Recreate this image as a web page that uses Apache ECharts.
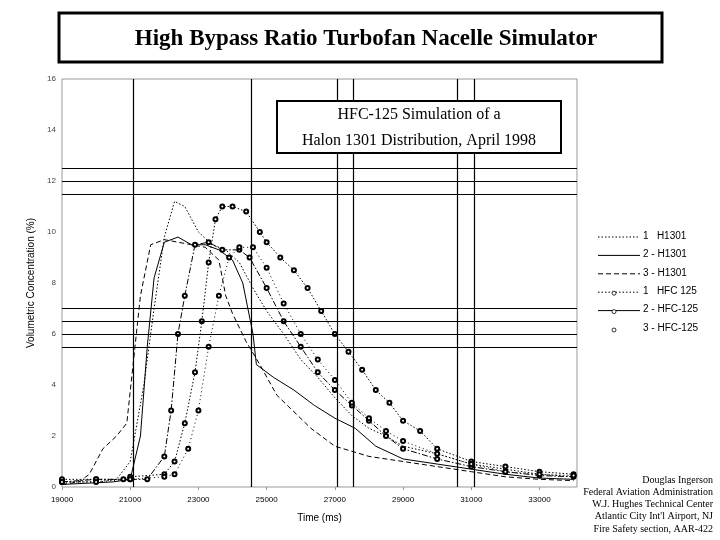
<!DOCTYPE html>
<html>
<head>
<meta charset="utf-8">
<script src="https://cdn.jsdelivr.net/npm/echarts@6/dist/echarts.min.js"></script>
<style>html,body{margin:0;padding:0;background:#fff}#chart{width:720px;height:540px}</style>
</head>
<body>
<div id="chart"></div>
<script>
// data (time in ms, concentration in %)
const h1301_1 = [[19000,0.2],[20000,0.2],[20600,0.3],[21000,1],[21400,4],[21700,7],[22000,9.8],[22300,11.2],[22600,11.0],[23000,10.0],[23400,9.5],[23800,9.3],[24200,8.8],[24600,7.8],[25000,6.9],[25500,6.0],[26000,5.0],[26500,4.3],[27000,3.5],[27500,2.8],[28000,2.3],[28500,2.0],[29000,1.6],[30000,1.3],[31000,0.9],[32000,0.7],[33000,0.5],[34000,0.4]];
const h1301_2 = [[19000,0.1],[20500,0.2],[21000,0.3],[21300,2],[21500,5.5],[21700,8.2],[22000,9.6],[22400,9.8],[22800,9.5],[23200,9.5],[23600,9.3],[24000,8.9],[24300,8.0],[24600,6.0],[24700,4.8],[25200,4.3],[25800,3.8],[26400,3.2],[27000,2.7],[27600,2.3],[28200,1.6],[29000,1.1],[30000,0.9],[31000,0.7],[32000,0.5],[33000,0.35],[34000,0.3]];
const h1301_3 = [[19000,0.1],[19500,0.2],[19800,0.5],[20200,1.5],[20600,2.0],[20900,2.5],[21100,5],[21300,7.5],[21600,9.5],[22000,9.7],[22400,9.6],[22800,9.5],[23200,9.4],[23600,8.9],[23800,7.5],[24000,6.8],[24400,5.7],[24800,4.8],[25300,3.6],[26300,2.3],[27000,1.6],[28000,1.2],[29000,1.0],[30000,0.8],[31000,0.6],[32000,0.4],[33000,0.3],[34000,0.25]];
const hfc_1 = [[19000,0.3],[20000,0.3],[20800,0.3],[21000,0.4],[22000,0.5],[22300,1.0],[22600,2.5],[22900,4.5],[23100,6.5],[23300,8.8],[23500,10.5],[23700,11.0],[24000,11.0],[24400,10.8],[24800,10.0],[25000,9.6],[25400,9.0],[25800,8.5],[26200,7.8],[26600,6.9],[27000,6.0],[27400,5.3],[27800,4.6],[28200,3.8],[28600,3.3],[29000,2.6],[29500,2.2],[30000,1.5],[31000,1.0],[32000,0.8],[33000,0.6],[34000,0.5]];
const hfc_2 = [[19000,0.2],[20000,0.3],[21000,0.3],[21500,0.3],[22000,1.2],[22200,3],[22400,6],[22600,7.5],[22900,9.5],[23300,9.6],[23700,9.3],[24200,9.3],[24500,9.0],[25000,7.8],[25500,6.5],[26000,5.5],[26500,4.5],[27000,3.8],[27500,3.2],[28000,2.6],[28500,2.0],[29000,1.5],[30000,1.1],[31000,0.8],[32000,0.6],[33000,0.45],[34000,0.4]];
const hfc_3 = [[19000,0.2],[20000,0.2],[21000,0.3],[22000,0.4],[22300,0.5],[22700,1.5],[23000,3],[23300,5.5],[23600,7.5],[23900,9.0],[24200,9.4],[24600,9.4],[25000,8.6],[25500,7.2],[26000,6.0],[26500,5.0],[27000,4.2],[27500,3.3],[28000,2.7],[28500,2.2],[29000,1.8],[30000,1.3],[31000,0.9],[32000,0.6],[33000,0.5],[34000,0.45]];
const xTicks = [19000, 21000, 23000, 25000, 27000, 29000, 31000, 33000];
const vLines = [21090, 24540, 27060, 27530, 30580, 31080];
const hLines = [12.5, 12.0, 11.5, 7.0, 6.5, 6.0, 5.5];
const legendNames = ['1   H1301', '2 - H1301', '3 - H1301', '1   HFC 125', '2 - HFC-125', '3 - HFC-125'];

const chart = echarts.init(document.getElementById('chart'));
const serif = 'Liberation Serif';

function line(name, data, type, marker) {
    return {
        name: name, type: 'line', data: data, smooth: false,
        symbol: marker ? 'emptyCircle' : 'none', symbolSize: 4,
        showSymbol: !!marker,
        lineStyle: { color: '#000', width: 1, type: type },
        itemStyle: { color: '#000', borderWidth: 0.8 },
        animation: false, z: 3
    };
}

// legend drawn by hand to mimic the original sample lines
const legendStyles = [
    { dash: [1.5, 2] }, { dash: null }, { dash: [5, 3] },
    { dash: [1.5, 2], mk: true }, { dash: null, mk: true }, { none: true, mk: true }
];
const legendGraphics = [];
legendStyles.forEach((s, i) => {
    const y = 237 + i * 18.4;
    if (!s.none) legendGraphics.push({ type: 'line', shape: { x1: 598, y1: y, x2: 640, y2: y },
        style: { stroke: '#000', lineWidth: 1, lineDash: s.dash } });
    if (s.mk) legendGraphics.push({ type: 'circle', shape: { cx: 614, cy: y + 1, r: 2 },
        style: { stroke: '#000', fill: '#fff', lineWidth: 0.8 } });
    legendGraphics.push({ type: 'text', x: 643, y: y - 6,
        style: { text: legendNames[i], font: '10px Liberation Sans', fill: '#000' } });
});

const option = {
    backgroundColor: '#fff',
    animation: false,
    grid: { left: 62, right: 143, top: 79, bottom: 53, show: true, borderColor: '#999', borderWidth: 1 },
    xAxis: {
        type: 'value', min: 19000, max: 34100,
        name: 'Time (ms)', nameLocation: 'middle', nameGap: 26,
        nameTextStyle: { fontFamily: 'Liberation Sans', fontSize: 10, color: '#000' },
        axisLine: { show: false }, splitLine: { show: false },
        axisTick: { show: true, customValues: xTicks, length: 3, lineStyle: { color: '#999' } },
        axisLabel: { customValues: xTicks, formatter: v => String(v), fontSize: 8, color: '#000', fontFamily: 'Liberation Sans', margin: 9 }
    },
    yAxis: {
        type: 'value', min: 0, max: 16, interval: 2,
        name: 'Volumetric Concentration (%)', nameLocation: 'middle', nameGap: 26,
        nameTextStyle: { fontFamily: 'Liberation Sans', fontSize: 10, color: '#000' },
        axisLine: { show: false }, splitLine: { show: false }, axisTick: { show: false },
        axisLabel: { fontSize: 8, color: '#444', fontFamily: 'Liberation Sans', margin: 6 }
    },
    series: [
        line(legendNames[0], h1301_1, [1.5, 2], false),
        line(legendNames[1], h1301_2, 'solid', false),
        line(legendNames[2], h1301_3, [5, 3], false),
        line(legendNames[3], hfc_1, [1.5, 2], true),
        line(legendNames[4], hfc_2, [6, 2, 1.5, 2], true),
        line(legendNames[5], hfc_3, [1, 3], true),
        {
            type: 'line', data: [], silent: true,
            markLine: {
                symbol: 'none', silent: true, label: { show: false }, animation: false,
                lineStyle: { color: '#000', width: 1.2, type: 'solid' },
                data: vLines.map(v => ({ xAxis: v })).concat(hLines.map(v => ({ yAxis: v })))
            }
        }
    ],
    graphic: [
        { type: 'rect', shape: { x: 59, y: 13, width: 603, height: 49 },
          style: { fill: '#fff', stroke: '#000', lineWidth: 3 } },
        { type: 'text', x: 366, y: 39, style: { text: 'High Bypass Ratio Turbofan Nacelle Simulator',
          font: 'bold 23px ' + serif, fill: '#000', align: 'center', verticalAlign: 'middle' } },
        { type: 'rect', z: 10, shape: { x: 277, y: 101, width: 284, height: 52 },
          style: { fill: '#fff', stroke: '#000', lineWidth: 2 } },
        { type: 'text', z: 11, x: 419, y: 115, style: { text: 'HFC-125 Simulation of a',
          font: '16px ' + serif, fill: '#000', align: 'center', verticalAlign: 'middle' } },
        { type: 'text', z: 11, x: 419, y: 141, style: { text: 'Halon 1301 Distribution, April 1998',
          font: '16px ' + serif, fill: '#000', align: 'center', verticalAlign: 'middle' } },
        { type: 'text', x: 713, y: 474, style: {
          text: 'Douglas Ingerson\nFederal Aviation Administration\nW.J. Hughes Technical Center\nAtlantic City Int\'l Airport, NJ\nFire Safety section, AAR-422',
          font: '10px ' + serif, fill: '#000', align: 'right', lineHeight: 12.2 } }
    ].concat(legendGraphics)
};
chart.setOption(option);
</script>
</body>
</html>
